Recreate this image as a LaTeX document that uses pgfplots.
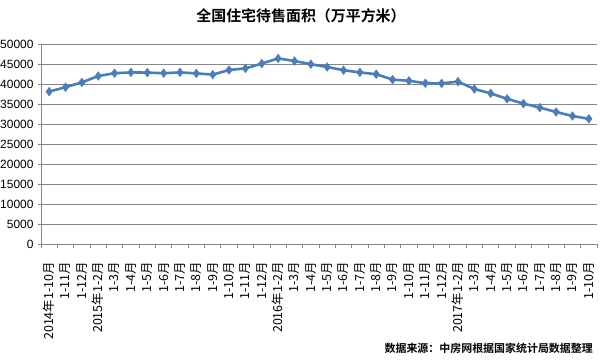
\documentclass[border=0pt]{standalone}
\usepackage{pgfplots}
\pgfplotsset{compat=1.18}
\usepackage{fontspec}
\setmainfont{Liberation Sans}
\newfontfamily\cjk{Noto Sans CJK SC}
\newfontfamily\cjkb{Noto Sans CJK SC Bold}
\definecolor{gridc}{HTML}{868686}
\definecolor{linec}{HTML}{4A7EBB}
\begin{document}
\begin{tikzpicture}[x=1bp,y=1bp]
\path[use as bounding box] (0,0) rectangle (600,360);
\begin{axis}[
  at={(41bp,116bp)}, anchor=south west,
  scale only axis, width=556bp, height=200bp,
  xmin=0.5, xmax=34.5, ymin=0, ymax=50000,
  axis x line*=bottom, axis y line*=left,
  axis line style={draw=gridc, line width=0.8bp},
  ytick={0,5000,...,50000},
  scaled y ticks=false,
  /pgf/number format/.cd, 1000 sep={}, assume math mode=true, /pgfplots/.cd,
  yticklabel style={font=\fontsize{12}{12}\selectfont, xshift=-1bp},
  ymajorgrids, grid style={draw=gridc, line width=0.8bp},
  tick align=outside,
  major tick length=3bp,
  tick style={draw=gridc, line width=0.8bp},
  xtick={1,...,34},
  major x tick style={draw=none},
  minor xtick={0.5,1.5,...,34.5},
  minor tick length=4bp,
  xticklabels={2014年1-10月,1-11月,1-12月,2015年1-2月,1-3月,1-4月,1-5月,1-6月,1-7月,1-8月,1-9月,1-10月,1-11月,1-12月,2016年1-2月,1-3月,1-4月,1-5月,1-6月,1-7月,1-8月,1-9月,1-10月,1-11月,1-12月,2017年1-2月,1-3月,1-4月,1-5月,1-6月,1-7月,1-8月,1-9月,1-10月},
  xticklabel style={font=\cjk\fontsize{12.5}{13}\selectfont, rotate=90, anchor=east, inner sep=1bp, xshift=-14bp},
  clip=false,
]
\addplot[color=linec, line width=2.6bp, mark=diamond*, mark size=4.3bp, mark options={fill=linec, draw=linec, line width=0.5bp}]
coordinates {
(1,38100)(2,39200)(3,40400)(4,42000)(5,42700)(6,42900)(7,42850)(8,42700)(9,42900)(10,42650)
(11,42350)(12,43500)(13,43900)(14,45100)(15,46400)(16,45750)(17,44950)(18,44250)(19,43450)(20,42900)
(21,42450)(22,41100)(23,40800)(24,40200)(25,40150)(26,40600)(27,38750)(28,37650)(29,36300)(30,35100)
(31,34100)(32,33000)(33,32000)(34,31300)
};
\end{axis}
\node[font=\cjkb\fontsize{15}{16}\selectfont] at (301,344) {全国住宅待售面积（万平方米）};
\node[font=\cjkb\fontsize{11}{12}\selectfont, anchor=east, inner sep=0pt] at (593,12) {数据来源：中房网根据国家统计局数据整理};
\end{tikzpicture}
\end{document}
